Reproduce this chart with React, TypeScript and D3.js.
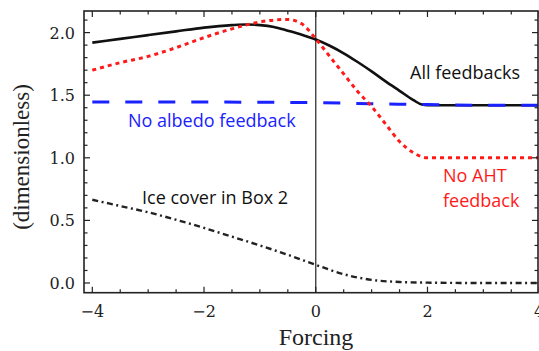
import React from "react";
import * as d3 from "d3";

const W = 539;
const H = 351;

const xAll = [-4, -3.5, -3, -2.5, -2, -1.5, -1.25, -1, -0.75, -0.5, -0.25, 0, 0.25, 0.5, 0.75, 1, 1.25, 1.5, 1.75, 1.9, 2, 3, 4];
const allFeedbacks = [1.92, 1.95, 1.98, 2.01, 2.04, 2.06, 2.065, 2.06, 2.045, 2.015, 1.983, 1.945, 1.895, 1.835, 1.765, 1.69, 1.61, 1.535, 1.46, 1.425, 1.42, 1.42, 1.42];

const xAht = [-4, -3.5, -3, -2.5, -2, -1.5, -1, -0.75, -0.5, -0.25, 0, 0.25, 0.5, 0.75, 1, 1.25, 1.5, 1.75, 2, 3, 4];
const noAht = [1.7, 1.76, 1.81, 1.88, 1.96, 2.03, 2.085, 2.1, 2.105, 2.07, 1.95, 1.81, 1.67, 1.53, 1.41, 1.27, 1.13, 1.04, 1.0, 1.0, 1.0];

const xAlb = [-4, -2, 0, 1, 2, 3, 4];
const noAlbedo = [1.445, 1.445, 1.44, 1.432, 1.425, 1.42, 1.42];

const xIce = [-4, -3.5, -3, -2.5, -2, -1.5, -1, -0.5, 0, 0.5, 1, 1.5, 2, 3, 4];
const iceCover = [0.665, 0.615, 0.565, 0.505, 0.44, 0.37, 0.3, 0.225, 0.145, 0.07, 0.025, 0.008, 0.003, 0.0, 0.0];

const xMajor = [-4, -2, 0, 2, 4];
const xMajorLabels = ["\u22124", "\u22122", "0", "2", "4"];
const yMajor = [0, 0.5, 1, 1.5, 2];
const yMajorLabels = ["0.0", "0.5", "1.0", "1.5", "2.0"];

export default function App() {
  const left = 84, right = 538, top = 11, bottom = 292.7;
  const x = d3.scaleLinear().domain([-4, 4]).range([92.3, 539.2]);
  const y = d3.scaleLinear().domain([0, 2]).range([283, 32.6]);

  const xMinor = d3.range(-4, 4.001, 0.5);
  const yMinor = d3.range(0, 2.1501, 0.1);

  const mk = (xs: number[], ys: number[]) =>
    d3.line<number>().x((_, i) => x(xs[i])).y((d) => y(d)).curve(d3.curveMonotoneX)(ys) || "";

  const serif = "'Liberation Serif', 'Times New Roman', serif";
  const tickFont = "'DejaVu Serif', serif";
  const sans = "'Open Sans', sans-serif";

  return (
    <svg width={W} height={H} style={{ position: "absolute", left: 0, top: 0, background: "#fff" }}>
      <defs>
        <clipPath id="pc">
          <rect x={left} y={top} width={right - left} height={bottom - top} />
        </clipPath>
      </defs>
      {/* zero line */}
      <line x1={x(0)} x2={x(0)} y1={top} y2={bottom} stroke="#333" strokeWidth={1.3} />
      <g clipPath="url(#pc)" fill="none">
        <path d={mk(xIce, iceCover)} stroke="#222" strokeWidth={2.4} strokeDasharray="6 3.5 2 3.5" />
        <path d={mk(xAll, allFeedbacks)} stroke="#111" strokeWidth={2.6} />
        <path d={mk(xAlb, noAlbedo)} stroke="#1a22ff" strokeWidth={3} strokeDasharray="17 16" />
        <path d={mk(xAht, noAht)} stroke="#ff1a1a" strokeWidth={3} strokeDasharray="4 4" />
      </g>
      {/* ticks */}
      <g stroke="#222" strokeWidth={1.2}>
        {xMinor.map((v, i) => {
          const major = Math.abs(v % 2) < 1e-6;
          const len = major ? 6 : 3.5;
          return (
            <g key={"xt" + i}>
              <line x1={x(v)} x2={x(v)} y1={bottom} y2={bottom - len} />
              <line x1={x(v)} x2={x(v)} y1={top} y2={top + len} />
            </g>
          );
        })}
        {yMinor.map((v, i) => {
          const major = Math.abs(Math.round(v * 10) % 5) === 0;
          const len = major ? 6 : 3.5;
          return (
            <g key={"yt" + i}>
              <line x1={left} x2={left + len} y1={y(v)} y2={y(v)} />
              <line x1={right} x2={right - len} y1={y(v)} y2={y(v)} />
            </g>
          );
        })}
      </g>
      {/* frame */}
      <rect x={left} y={top} width={right - left} height={bottom - top} fill="none" stroke="#222" strokeWidth={1.6} />
      {/* tick labels */}
      <g fontFamily={tickFont} fontSize={16} fill="#222">
        {xMajor.map((v, i) => (
          <text key={"xl" + i} x={x(v)} y={317} textAnchor="middle">
            {xMajorLabels[i]}
          </text>
        ))}
        {yMajor.map((v, i) => (
          <text key={"yl" + i} x={75} y={y(v) + 6} textAnchor="end">
            {yMajorLabels[i]}
          </text>
        ))}
      </g>
      {/* axis titles */}
      <text x={316} y={345} textAnchor="middle" fontFamily={serif} fontSize={24} fill="#222">
        Forcing
      </text>
      <text
        transform={`translate(29,157) rotate(-90)`}
        textAnchor="middle"
        fontFamily={serif}
        fontSize={23}
        fill="#222"
      >
        (dimensionless)
      </text>
      {/* annotations */}
      <g fontFamily={sans} fontSize={18}>
        <text x={410} y={79} fill="#111">All feedbacks</text>
        <text x={128} y={127} fill="#1a22ff">No albedo feedback</text>
        <text x={142} y={204} fill="#111">Ice cover in Box 2</text>
        <text x={443} y={182} fill="#ff1a1a">No AHT</text>
        <text x={443} y={207} fill="#ff1a1a">feedback</text>
      </g>
    </svg>
  );
}
